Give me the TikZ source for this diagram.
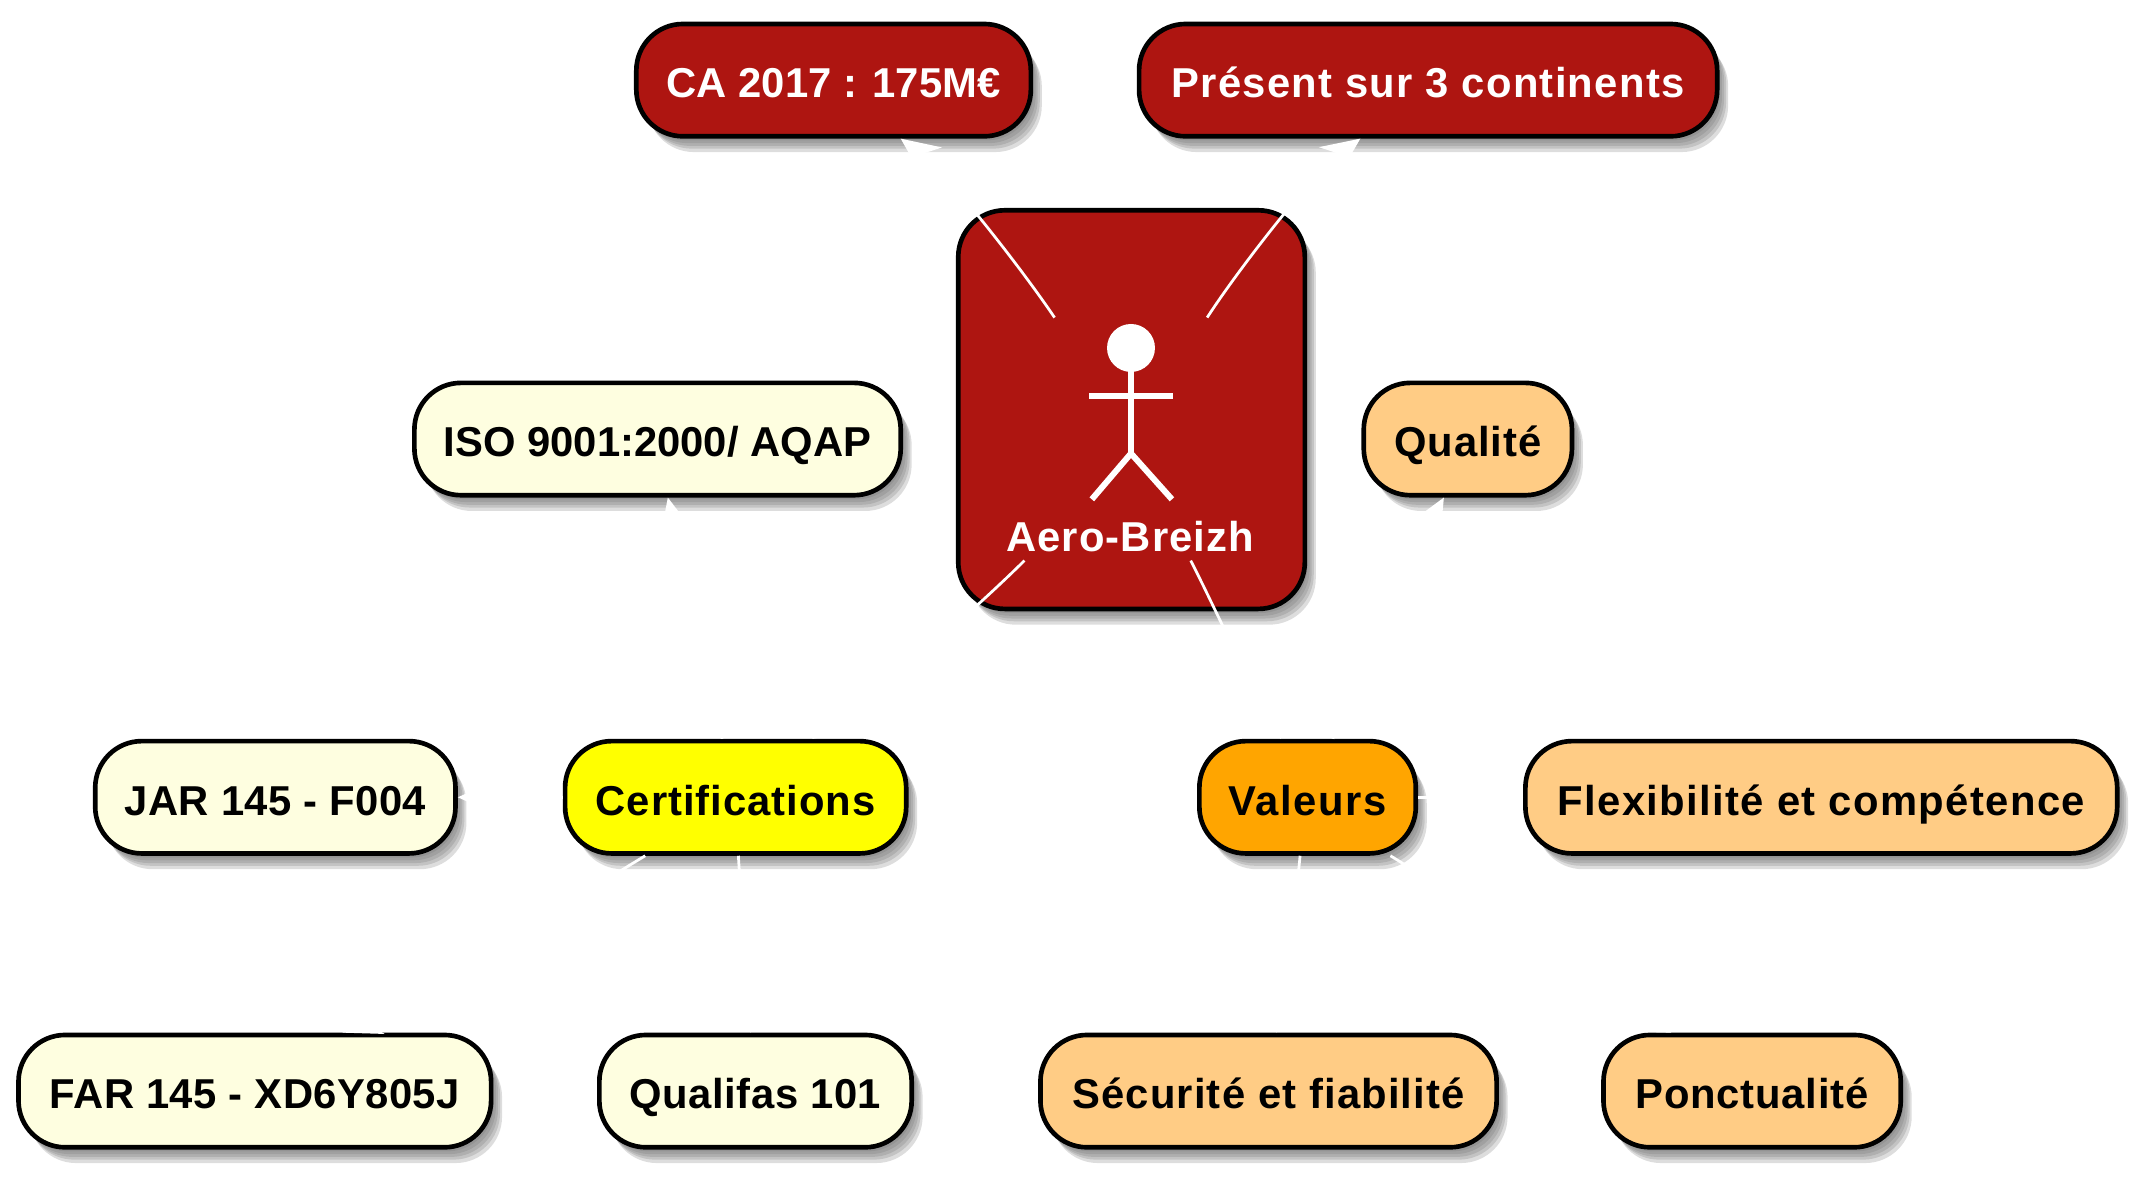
\documentclass[tikz,border=0pt]{standalone}
\usepackage{fontspec}
\setmainfont{Liberation Sans}
\usetikzlibrary{arrows.meta}
\definecolor{redbox}{HTML}{AE1511}
\definecolor{ivorybox}{HTML}{FEFEE0}
\definecolor{peachbox}{HTML}{FFCC85}
\definecolor{orangebox}{HTML}{FFA500}
\definecolor{yellowbox}{HTML}{FFFF00}
\definecolor{shadowgray}{HTML}{707070}
\newcommand{\lsp}[1]{\addfontfeature{LetterSpace=#1}}
\tikzset{
  softlayer/.style 2 args={preaction={transform canvas={shift={(#1pt,-#2pt)}},fill=shadowgray,opacity=.24}},
  softshadow/.style={softlayer={8}{11.5},softlayer={6.5}{9},softlayer={5}{7},softlayer={3.5}{5},softlayer={2}{3}},
  tag/.style={softshadow,draw=black,line width=3.4pt,rounded corners=34pt,
    minimum height=82pt,inner sep=0pt,text height=26pt,text depth=0pt,
    font=\fontsize{30.5}{36}\selectfont\bfseries},
  tagred/.style={tag,fill=redbox,text=white},
  tagivory/.style={tag,fill=ivorybox},
  tagpeach/.style={tag,fill=peachbox},
  figure part/.style={draw=white,line width=4.4pt},
  edge/.style={draw=white,line width=2pt,-{Stealth[length=28pt,width=25pt,inset=9pt,fill=white]}}
}
\begin{document}
\begin{tikzpicture}[x=1pt,y=-1pt]
\useasboundingbox (0,0) rectangle (1568,859.2);
\node[softshadow,draw=black,line width=3.4pt,rounded corners=34pt,fill=redbox,minimum width=253pt,minimum height=291pt,inner sep=0pt] (actor) at (826,299) {};
\node[tagred,minimum width=288pt] (ca) at (608.5,58.5) {CA 2017 : 175M€};
\node[tagred,minimum width=422pt] (pres) at (1042.5,58.5) {\lsp{3}Présent sur 3 continents};
\node[tagivory,minimum width=355pt] (iso) at (480,320.5) {ISO 9001:2000/ AQAP};
\node[tagpeach,minimum width=152pt] (qual) at (1071.5,320.5) {\lsp{2.2}Qualité};
\node[tagivory,minimum width=263pt] (jar) at (201,582) {\lsp{1}JAR 145 - F004};
\node[tag,fill=yellowbox,minimum width=249pt] (cert) at (537,582) {\lsp{2.3}Certifications};
\node[tag,fill=orangebox,minimum width=158pt] (val) at (954.5,582) {\lsp{3.8}Valeurs};
\node[tagpeach,minimum width=432pt] (flex) at (1329.5,582) {\lsp{3.3}Flexibilité et compétence};
\node[tagivory,minimum width=345pt] (far) at (186,796.5) {\lsp{1}FAR 145 - XD6Y805J};
\node[tagivory,minimum width=228pt] (qf) at (551.5,796.5) {\lsp{1.2}Qualifas 101};
\node[tagpeach,minimum width=333pt] (sec) at (926,796.5) {\lsp{2.8}Sécurité et fiabilité};
\node[tagpeach,minimum width=217pt] (pon) at (1279,796.5) {\lsp{2}Ponctualité};
% actor figure
\node[inner sep=0pt,minimum width=111pt,minimum height=177pt] (fig) at (825.5,320.5) {};
\fill[white] (825.6,254) circle (17.5);
\draw[figure part] (825.6,254) -- (825.6,331);
\draw[figure part] (795,289) -- (856,289);
\draw[figure part] (797,364.5) -- (825.6,331) -- (855.5,364.5);
\node[text=white,inner sep=0pt,text height=22pt,text depth=0pt,font=\fontsize{30.5}{36}\selectfont\bfseries] (lab) at (825,391.5) {\lsp{2.6}Aero-Breizh};
% connectors
\draw[edge] (fig.north west) .. controls (745,195) and (690,125) .. ([xshift=49pt]ca.south);
\draw[edge] (fig.north east) .. controls (905,195) and (960,125) .. ([xshift=-49.5pt]pres.south);
\draw[edge] ([xshift=-22pt]fig.south west) .. controls (720,437) and (650,500) .. ([xshift=56pt]cert.north);
\draw[edge] ([xshift=-12pt]fig.south east) .. controls (885,440) and (910,495) .. ([xshift=-19.5pt]val.north);
\draw[edge] ([xshift=-10pt]cert.north) .. controls (525,500) and (495,395) .. ([xshift=7.5pt]iso.south);
\draw[edge] ([xshift=18.5pt]val.north) .. controls (980,500) and (1040,388) .. ([xshift=-17.5pt]qual.south);
\draw[edge] (cert.west) -- (jar.east);
\draw[edge] (val.east) -- (flex.west);
\draw[edge] ([xshift=-66pt]cert.south) .. controls (420,655) and (320,725) .. ([xshift=64pt]far.north);
\draw[edge] ([xshift=2pt]cert.south) .. controls (541,660) and (546,720) .. ([xshift=-3.5pt]qf.north);
\draw[edge] ([xshift=-5.5pt]val.south) .. controls (946,660) and (936,720) .. ([xshift=6pt]sec.north);
\draw[edge] ([xshift=60.5pt]val.south) .. controls (1060,652) and (1160,725) .. ([xshift=-59pt]pon.north);
\end{tikzpicture}
\end{document}
